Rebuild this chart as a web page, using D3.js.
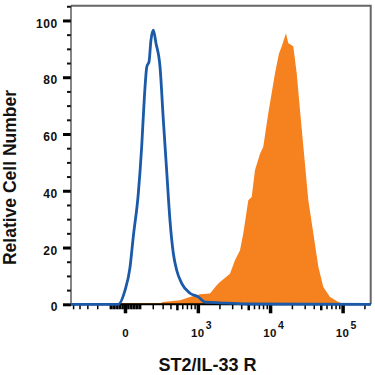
<!DOCTYPE html>
<html><head><meta charset="utf-8">
<script src="https://cdn.jsdelivr.net/npm/d3@7"></script>
<style>
html,body{margin:0;padding:0;background:#fff;}
svg text{font-family:"Liberation Sans",Arial,sans-serif;font-weight:bold;fill:#111;}
</style></head>
<body><svg id="c" width="375" height="375"></svg>
<script>
// ---- data ----
const xTitle = "ST2/IL-33 R";
const yTitle = "Relative Cell Number";
const yTicks = [0, 20, 40, 60, 80, 100];
const yMinorTicks = [5, 10, 15, 25, 30, 35, 45, 50, 55, 65, 70, 75, 85, 90, 95, 105];
const xMajorTicks = [0, 1000, 10000, 100000];
const xMajorLabels = ["0", "3", "4", "5"]; // exponents (0 shown plain)
const xMidTicks = [500, 5000, 50000];
const xMinorTicks = [-500, -400, -300, -200, -100, -90, -80, -70, -60, -50, -40, -30, -20, -10,
  10, 20, 30, 40, 50, 60, 70, 80, 90, 100, 200, 300, 400, 600, 700, 800, 900,
  2000, 3000, 4000, 6000, 7000, 8000, 9000, 20000, 30000, 40000, 60000, 70000, 80000, 90000, 200000];
const xDomain = [-537, 244000];
const yDomain = [0, 105.2];

// isotype control (blue outline)
const isoX = [-537, -43, 0, 32, 53, 87, 111, 131, 150, 168, 184, 205, 230, 271, 308, 349, 393, 442, 497, 588, 774, 1015, 1260, 2040, 4760, 244000];
const isoY = [0, 0, 4.9, 13, 23.7, 39, 55.5, 73, 83.7, 85.5, 93, 96.6, 92, 83.7, 65, 47, 29.6, 18, 12, 7.4, 3.9, 2.6, 0.8, 0.5, 0.1, 0];

// ST2/IL-33 R stained (orange filled)
const stX = [-51, -45, 99, 280, 304, 556, 774, 1072, 1478, 1833, 2036, 2798, 3282, 3848, 4276, 5010, 5580, 6200, 7270, 8060, 9450, 11700, 13280, 14470, 16580, 17840, 19440, 20900, 23300, 25880, 29390, 33680, 39480, 46290, 54200, 67060, 87240, 102260, 111400];
const stY = [0, 0.5, 0.5, 0.5, 0.8, 1.4, 2.6, 3.5, 3.8, 6.7, 7.9, 10.8, 15.5, 19, 25, 36.7, 37.8, 47.3, 53, 55.5, 67.3, 81.4, 88.4, 90.8, 95.5, 92, 91.4, 90.8, 81.4, 68.4, 53, 36.7, 25, 13.2, 6.1, 2.6, 0.8, 0.2, 0];

// ---- layout ----
const L = 71, R = 370.7, T = 5.7, B = 304.3;
const C = 200; // biexponential (asinh) width constant
const svg = d3.select("#c");

const tr = v => Math.asinh(v / C);
const xLin = d3.scaleLinear().domain(xDomain.map(tr)).range([L, R]);
const x = v => xLin(tr(v));
const y = d3.scaleLinear().domain(yDomain).range([B, T]);

// orange area
const stData = stX.map((v, i) => [v, stY[i]]);
svg.append("path").datum(stData)
  .attr("fill", "#f5821f").attr("stroke", "none")
  .attr("d", d3.area().x(d => x(d[0])).y0(y(0)).y1(d => y(d[1])).curve(d3.curveLinear));

// frame (top & right)
svg.append("path").attr("d", `M${L},${T}H${R}V${B}`).attr("fill", "none")
  .attr("stroke", "#666").attr("stroke-width", 2);

// y axis
const gy = svg.append("g").attr("transform", `translate(${L},0)`);
gy.call(d3.axisLeft(y).tickValues(yMinorTicks).tickSize(4).tickFormat(""))
  .call(g => g.selectAll(".tick line").attr("stroke", "#111").attr("stroke-width", 2));
gy.call(g => g.select(".domain").remove());
const gy2 = svg.append("g").attr("transform", `translate(${L},0)`);
gy2.call(d3.axisLeft(y).tickValues(yTicks).tickSize(8).tickPadding(5))
  .call(g => g.select(".domain").remove())
  .call(g => g.selectAll(".tick line").attr("stroke", "#000").attr("stroke-width", 3))
  .call(g => g.selectAll(".tick text").attr("font-size", 12).attr("letter-spacing", 0.7)
    .attr("dy", "0.55em").attr("x", -13));
svg.append("line").attr("x1", L).attr("x2", L).attr("y1", T).attr("y2", B + 1)
  .attr("stroke", "#333").attr("stroke-width", 1.2);

// x axis
const xAxisScale = xLin;
const mkX = (vals, size, w) => {
  const g = svg.append("g").attr("transform", `translate(0,${B})`);
  g.call(d3.axisBottom(xAxisScale).tickValues(vals.map(tr)).tickSize(size).tickFormat(""));
  g.select(".domain").remove();
  g.selectAll(".tick line").attr("stroke", "#000").attr("stroke-width", w);
  return g;
};
mkX(xMinorTicks, 5, 1.5);
mkX(xMidTicks, 6, 2.5);
mkX(xMajorTicks, 9, 3.5);
svg.append("line").attr("x1", L).attr("x2", R).attr("y1", B).attr("y2", B)
  .attr("stroke", "#000").attr("stroke-width", 2);

// x tick labels
xMajorTicks.forEach((v, i) => {
  const px = x(v);
  if (v === 0) {
    svg.append("text").attr("x", px + 0.5).attr("y", 337).attr("text-anchor", "middle")
      .attr("font-size", 11.5).text("0");
  } else {
    svg.append("text").attr("x", px).attr("y", 337).attr("text-anchor", "middle")
      .attr("font-size", 11.5).attr("letter-spacing", 0.4).text("10");
    svg.append("text").attr("x", px + 8).attr("y", 329).attr("text-anchor", "start")
      .attr("font-size", 10.5).text(xMajorLabels[i]);
  }
});

// isotype line
const isoData = isoX.map((v, i) => [v, isoY[i]]);
svg.append("path").datum(isoData)
  .attr("fill", "none").attr("stroke", "#1b59a9").attr("stroke-width", 2.8)
  .attr("stroke-linejoin", "round")
  .attr("d", d3.line().x(d => x(d[0])).y(d => y(d[1])).curve(d3.curveMonotoneX));

// titles
svg.append("text").attr("x", 207.5).attr("y", 371).attr("text-anchor", "middle")
  .attr("font-size", 18).text(xTitle);
svg.append("text").attr("transform", "translate(16,177.5) rotate(-90)").attr("text-anchor", "middle")
  .attr("font-size", 17.5).text(yTitle);
</script></body></html>
